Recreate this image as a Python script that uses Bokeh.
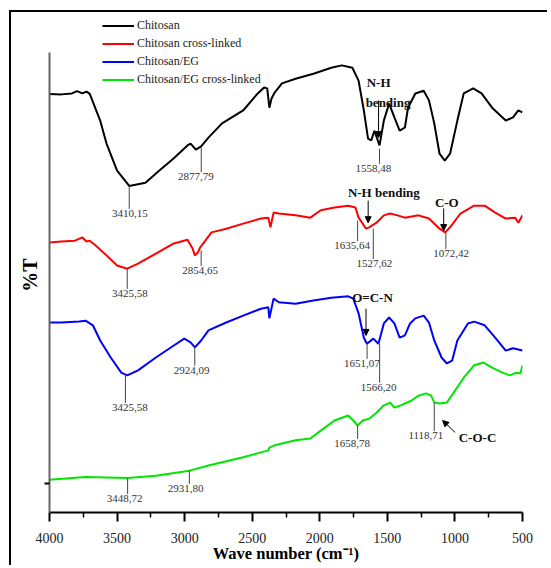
from bokeh.plotting import figure
from bokeh.models import Range1d, FixedTicker, Arrow, NormalHead, ColumnDataSource
from bokeh.core.properties import value
from bokeh.embed import file_html
from bokeh.resources import INLINE

# ---------------- data (wavenumber cm-1, relative %T) ----------------
wn_cs = [4000, 3912, 3834, 3796, 3757, 3726, 3702, 3625, 3578, 3500, 3410, 3290, 3189, 3080, 2979,
         2956, 2917, 2878, 2824, 2723, 2567, 2459, 2412, 2389, 2373, 2357, 2334, 2280, 2179, 2047, 1915,
         1837, 1759, 1713, 1674, 1643, 1619, 1596, 1558, 1526, 1487, 1448, 1409, 1370, 1347, 1293, 1231,
         1192, 1153, 1114, 1075, 1036, 982, 935, 865, 803, 725, 624, 570, 531, 500]
t_cs = [91.0, 90.9, 91.1, 91.6, 91.1, 91.5, 91.0, 85.2, 80.2, 74.3, 71.0, 71.7, 74.3, 77.0, 79.8,
        80.2, 78.9, 79.6, 81.5, 84.6, 87.4, 91.1, 92.4, 92.2, 88.0, 90.0, 91.3, 93.3, 94.3, 95.4, 96.7,
        97.2, 96.7, 93.9, 87.4, 81.3, 80.9, 83.0, 79.8, 85.2, 88.9, 85.9, 83.0, 83.7, 88.0, 91.1, 91.7,
        89.6, 84.6, 78.0, 76.5, 78.0, 85.2, 91.1, 92.2, 91.1, 88.0, 85.2, 85.9, 87.4, 87.0]

wn_csx = [4000, 3912, 3811, 3757, 3726, 3702, 3656, 3578, 3500, 3425, 3345, 3213, 3080, 2979, 2941, 2925,
          2902, 2886, 2847, 2801, 2692, 2567, 2435, 2381, 2365, 2342, 2303, 2179, 2070, 1993, 1891, 1790,
          1736, 1713, 1682, 1658, 1635, 1580, 1526, 1479, 1425, 1370, 1269, 1192, 1114, 1072, 1036, 959,
          858, 780, 702, 624, 554, 531, 500]
t_csx = [58.7, 58.9, 59.1, 59.8, 58.9, 59.1, 58.0, 55.9, 53.7, 53.0, 54.1, 56.3, 58.5, 59.3, 57.4, 55.9,
         56.5, 57.6, 59.1, 60.9, 61.7, 62.8, 63.9, 64.1, 62.0, 65.2, 65.0, 64.6, 64.1, 65.7, 66.3, 66.7,
         66.3, 64.1, 62.8, 61.7, 62.0, 63.0, 64.6, 65.0, 64.6, 64.1, 64.6, 63.9, 61.7, 60.9, 62.0, 65.0,
         66.7, 66.7, 65.2, 63.9, 64.1, 63.0, 64.6]

wn_eg = [4000, 3912, 3780, 3733, 3679, 3625, 3547, 3469, 3425, 3345, 3213, 3080, 3003, 2956, 2924, 2878,
         2824, 2692, 2567, 2435, 2381, 2373, 2342, 2303, 2179, 2047, 1915, 1790, 1752, 1713, 1674, 1651,
         1604, 1566, 1526, 1487, 1448, 1409, 1370, 1332, 1293, 1231, 1192, 1153, 1099, 1060, 1021, 982,
         904, 858, 780, 702, 624, 570, 500]
t_eg = [41.3, 41.3, 41.5, 41.7, 40.7, 37.4, 33.7, 30.4, 29.8, 30.9, 33.7, 36.3, 37.8, 37.0, 35.9, 37.4,
        39.6, 41.3, 42.8, 44.3, 44.6, 42.2, 46.5, 45.7, 45.4, 46.1, 46.7, 47.0, 46.5, 43.3, 38.0, 36.7,
        37.8, 36.7, 41.1, 42.4, 41.1, 38.0, 38.5, 41.1, 42.2, 42.8, 41.3, 37.4, 33.7, 32.4, 33.0, 37.4,
        41.1, 41.5, 40.7, 38.0, 35.2, 35.7, 35.2]

wn_egx = [4000, 3733, 3422, 3213, 2964, 2824, 2567, 2381, 2373, 2334, 2179, 2070, 1993, 1891, 1790, 1752,
          1721, 1682, 1635, 1580, 1526, 1479, 1448, 1402, 1324, 1269, 1215, 1176, 1153, 1114, 1060, 1013,
          935, 858, 788, 725, 648, 593, 547, 516, 500]
t_egx = [7.1, 7.7, 7.5, 8.0, 9.1, 10.2, 12.0, 13.5, 14.1, 14.6, 15.7, 16.1, 17.8, 20.0, 21.1, 20.0,
         18.9, 20.0, 20.4, 21.7, 23.3, 23.9, 22.8, 23.3, 24.3, 25.4, 25.9, 25.4, 23.9, 23.7, 23.9, 25.9,
         29.3, 32.0, 32.6, 31.5, 30.4, 29.8, 30.4, 30.2, 32.0]

series_names = ["Chitosan", "Chitosan cross-linked", "Chitosan/EG", "Chitosan/EG cross-linked"]
series_colors = ["#000000", "#ff0000", "#0000ff", "#00e600"]

x_ticks = [4000, 3500, 3000, 2500, 2000, 1500, 1000, 500]
x_minor_ticks = [3750, 3250, 2750, 2250, 1750, 1250, 750]
y_ticks = [6.3]
y_axis_extent = (0, 100)

# peak markers
peak_text = ["3410,15", "2877,79", "1558,48", "3425,58", "2854,65", "1635,64", "1527,62", "1072,42",
             "3425,58", "2924,09", "1651,07", "1566,20", "3448,72", "2931,80", "1658,78", "1118,71"]
peak_line_x = [3410, 2877, 1558, 3425, 2878, 1720, 1604, 1067, 3438, 2925, 1650, 1557, 3422, 2965, 1720, 1153]
peak_line_top = [71.0, 79.3, 79.1, 53.0, 57.0, 63.5, 61.7, 60.9, 29.8, 35.9, 36.7, 36.7, 7.4, 9.1, 18.9, 23.9]
peak_label_x = [3405, 2916, 1604, 3405, 2885, 1760, 1596, 1028, 3405, 2948, 1689, 1565, 3445, 2993, 1760, 1215]
peak_label_y = [65.0, 73.0, 74.8, 47.6, 52.6, 58.0, 54.1, 56.3, 22.8, 30.9, 32.4, 27.2, 3.0, 5.2, 15.0, 16.7]
peak_line_bot = [v + 1.0 for v in peak_label_y]

# bold group labels
bold_text = ["N-H", "bending", "N-H bending", "C-O", "O=C-N", "C-O-C"]
bold_x = [1565, 1495, 1526, 1060, 1610, 833]
bold_y = [93.5, 89.1, 69.6, 67.4, 46.7, 16.3]

# arrows
arrow_x0 = [1565, 1642, 1083, 1658, 998]
arrow_y0 = [89.6, 67.8, 66.1, 44.3, 17.4]
arrow_x1 = [1565, 1642, 1083, 1658, 1091]
arrow_y1 = [81.5, 63.0, 61.3, 38.5, 20.0]

# ---------------- figure ----------------
SERIF = "Liberation Serif"
W, H = 538, 555
p = figure(width=W, height=H, output_backend="svg", toolbar_location=None,
           x_range=Range1d(4000, 500), y_range=Range1d(0, 108.7),
           min_border_left=38, min_border_right=27, min_border_top=0, min_border_bottom=55)
p.styles = {"margin-left": "9px", "margin-top": "10px",
            "border-top": "2px solid black", "border-left": "2px solid black"}
p.outline_line_color = None
p.grid.visible = False
p.background_fill_color = "white"

series = [(wn_cs, t_cs), (wn_csx, t_csx), (wn_eg, t_eg), (wn_egx, t_egx)]
for (xs, ys), name, col in zip(series, series_names, series_colors):
    p.line(xs, ys, line_color=col, line_width=2, legend_label=name)

# peak lines and labels
p.segment(x0=peak_line_x, y0=peak_line_top, x1=peak_line_x, y1=peak_line_bot,
          line_color="#444444", line_width=1)
p.text(x=peak_label_x, y=peak_label_y, text=peak_text, text_font=value(SERIF),
       text_font_size="11px", text_color="#333333", text_align="center", text_baseline="middle")
p.text(x=bold_x, y=bold_y, text=bold_text, text_font=value(SERIF), text_font_style="bold",
       text_font_size="13px", text_color="#111111", text_align="center", text_baseline="middle")
asrc = ColumnDataSource(dict(x0=arrow_x0, y0=arrow_y0, x1=arrow_x1, y1=arrow_y1))
p.add_layout(Arrow(end=NormalHead(size=6, fill_color="black", line_color="black"),
                   x_start="x0", y_start="y0", x_end="x1", y_end="y1", source=asrc,
                   line_color="black", line_width=1))

# x axis
xa = p.xaxis[0]
xa.ticker = FixedTicker(ticks=x_ticks, minor_ticks=x_minor_ticks)
xa.axis_line_width = 2
xa.axis_line_color = "black"
xa.major_tick_line_width = 2
xa.minor_tick_line_width = 1.5
xa.major_tick_in = 0
xa.major_tick_out = 9
xa.minor_tick_in = 0
xa.minor_tick_out = 5
xa.major_label_text_font = SERIF
xa.major_label_text_font_size = "14px"
xa.major_label_text_color = "#222222"
xa.major_label_standoff = 11
xa.axis_label = "Wave number (cm\u207b\u00b9)"
xa.axis_label_text_font = SERIF
xa.axis_label_text_font_style = "bold"
xa.axis_label_text_font_size = "16.5px"
xa.axis_label_text_color = "black"
xa.axis_label_standoff = -2

# y axis (spine limited to the data span, no tick labels)
ya = p.yaxis[0]
ya.bounds = y_axis_extent
ya.ticker = FixedTicker(ticks=y_ticks, minor_ticks=[])
ya.major_label_overrides = {y_ticks[0]: ""}
ya.axis_line_width = 2
ya.axis_line_color = "#666666"
ya.major_tick_line_width = 2
ya.major_tick_line_color = "black"
ya.major_tick_in = 0
ya.major_tick_out = 5
ya.major_label_standoff = 0
# trailing no-break spaces centre the visible "%T" on the drawn spine
ya.axis_label = "%T" + "\u00a0" * 5
ya.axis_label_text_font = SERIF
ya.axis_label_text_font_style = "bold"
ya.axis_label_text_font_size = "20px"
ya.axis_label_text_color = "black"
ya.axis_label_standoff = 4

# legend (top-left, inside the upper margin of the frame)
lg = p.legend[0]
lg.location = (53, 425)
lg.background_fill_alpha = 0
lg.border_line_color = None
lg.padding = 0
lg.margin = 0
lg.spacing = 3
lg.glyph_width = 32
lg.glyph_height = 15
lg.label_height = 15
lg.label_standoff = 3
lg.label_text_font = SERIF
lg.label_text_font_size = "12px"
lg.label_text_color = "#222222"

open("out.html", "w").write(file_html(p, INLINE))
